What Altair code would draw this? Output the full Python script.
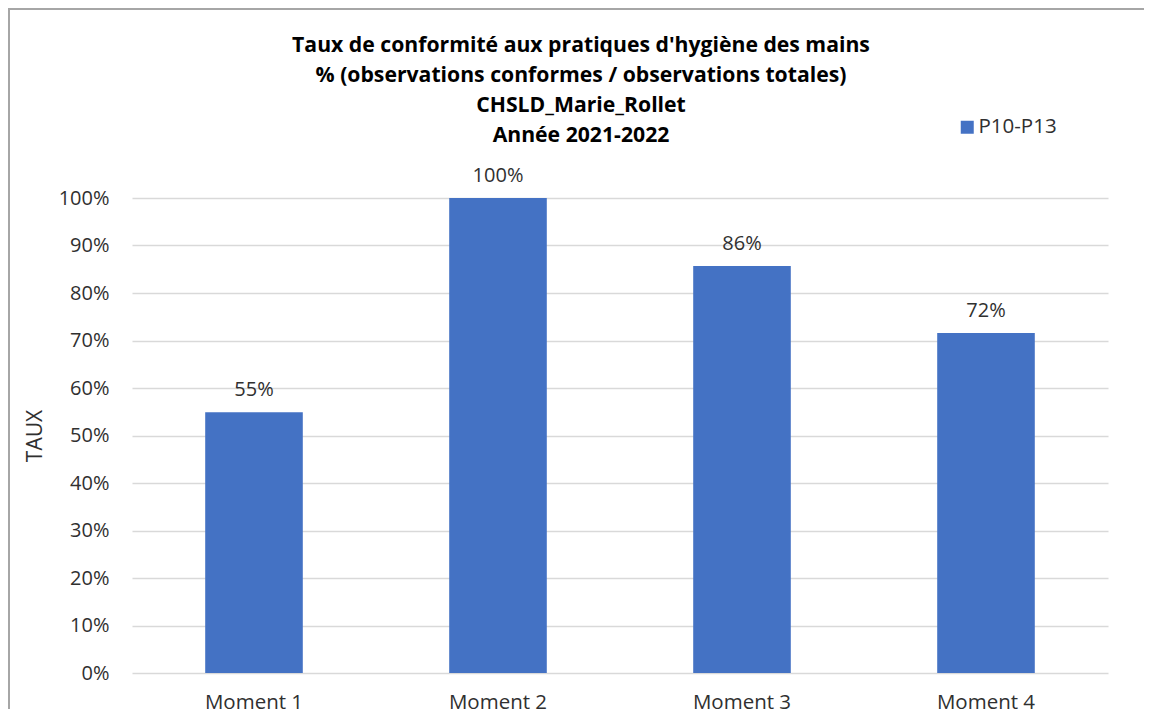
import altair as alt
import pandas as pd

categories = ["Moment 1", "Moment 2", "Moment 3", "Moment 4"]
values = [0.549, 1.0, 0.857, 0.716]
labels = ["55%", "100%", "86%", "72%"]
series = "P10-P13"
title_lines = [
    "Taux de conformité aux pratiques d'hygiène des mains",
    "% (observations conformes / observations totales)",
    "CHSLD_Marie_Rollet",
    "Année 2021-2022",
]
y_ticks = [i / 10 for i in range(11)]

df = pd.DataFrame({"moment": categories, "taux": values, "label": labels, "serie": [series] * 4})

FONT = "Open Sans"
TXT = "#303030"
BORDER = "#a6a6a6"

x = alt.X("moment:N", sort=categories, title=None,
          scale=alt.Scale(paddingInner=0.6, paddingOuter=0.3),
          axis=alt.Axis(labelAngle=0, ticks=False, domain=False, labelPadding=19,
                        labelFontSize=20.5, labelColor=TXT, labelFont=FONT))
y = alt.Y("taux:Q", title="TAUX",
          scale=alt.Scale(domain=[0, 1], nice=False),
          axis=alt.Axis(values=y_ticks, format=".0%", ticks=False, domain=False,
                        labelPadding=23, labelFontSize=20, labelColor=TXT, labelFont=FONT,
                        gridColor="#d9d9d9", gridWidth=1.5,
                        titleFontSize=21, titleColor=TXT, titleFont=FONT, titleFontWeight="normal",
                        titleX=-91, titleY=237.5, titleBaseline="alphabetic", titleAlign="center"))

bars = alt.Chart(df).mark_bar(size=97.6).encode(
    x=x, y=y,
    color=alt.Color("serie:N", scale=alt.Scale(range=["#4472C4"]),
                    legend=alt.Legend(orient="none", legendX=825, legendY=-81, title=None,
                                      symbolType="square", symbolSize=169, symbolStrokeWidth=0,
                                      labelFontSize=20.5, labelColor=TXT, labelFont=FONT,
                                      labelOffset=1)),
)

text = alt.Chart(df).mark_text(baseline="alphabetic", dy=-16, fontSize=20, color=TXT, font=FONT).encode(
    x=alt.X("moment:N", sort=categories), y="taux:Q", text="label:N"
)

title = alt.Chart(pd.DataFrame({"t": ["\n".join(title_lines)]})).mark_text(
    align="center", baseline="alphabetic", lineBreak="\n", lineHeight=30,
    fontSize=21.2, fontWeight="bold", font=FONT, color="#000000"
).encode(x=alt.value(449), y=alt.value(-146), text="t:N")

frame_top = alt.Chart(pd.DataFrame({"a": [0]})).mark_rule(stroke=BORDER, strokeWidth=2).encode(
    x=alt.value(-124), x2=alt.value(1012), y=alt.value(-189)
)
frame_left = alt.Chart(pd.DataFrame({"a": [0]})).mark_rule(stroke=BORDER, strokeWidth=2).encode(
    x=alt.value(-123), y=alt.value(-190), y2=alt.value(511)
)

chart = alt.layer(bars, text, title, frame_top, frame_left).properties(
    width=976, height=475,
    padding={"left": 124, "top": 190, "right": 36, "bottom": 36},
    autosize=alt.AutoSizeParams(type="none"),
).configure_view(stroke=None)

chart.save("out.html", embed_options={"renderer": "svg", "actions": False})
